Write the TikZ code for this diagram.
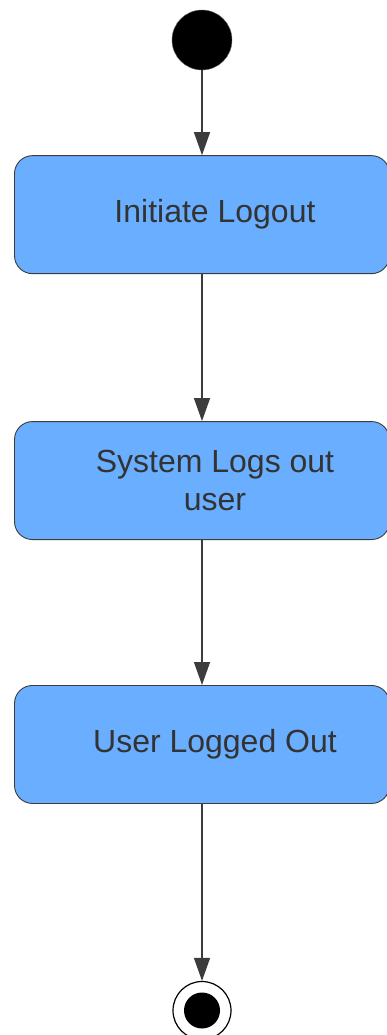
\documentclass[tikz,border=0pt]{standalone}
\usepackage{fontspec}
\setmainfont{Liberation Sans}
\definecolor{stateblue}{RGB}{106,174,255}
\definecolor{darkline}{RGB}{60,60,60}
\definecolor{labelgray}{RGB}{51,51,51}
\usetikzlibrary{positioning,arrows.meta,shapes.geometric}
\tikzset{
	>={Triangle[width=16pt,length=23pt]},
	startstate/.style={
		circle,
		fill=black,
		draw=black!60, thin,
		minimum size=60pt,
		inner sep=0pt},
	endstate/.style={
		circle,
		draw=black, line width=1.2pt,
		fill=white,
		minimum size=58pt,
		inner sep=0pt,
		path picture={\fill[black] (path picture bounding box.center) circle (18pt);}},
	statebox/.style={
		rectangle,
		rounded corners=18pt,
		fill=stateblue,
		draw=darkline, line width=0.9pt,
		minimum width=375pt,
		minimum height=118pt,
		align=center,
		text=labelgray,
		font=\fontsize{32}{37.5}\selectfont},
	flow/.style={draw=darkline, line width=1.4pt, ->},
}

\begin{document}
\begin{tikzpicture}[x=1pt,y=1pt]
\useasboundingbox (0,0) rectangle (386,-1035);

\node[startstate] (start) at (202,-40) {};
\node[statebox, below=85pt of start] (initiate) {\hspace*{26pt}Initiate Logout};
\node[statebox, below=147pt of initiate] (logsout) {\hspace*{26pt}System Logs out\\\hspace*{26pt}user};
\node[statebox, below=145pt of logsout] (loggedout) {\hspace*{26pt}User Logged Out};
\node[endstate, below=177pt of loggedout] (finish) {};

\draw[flow] (start) -- (initiate);
\draw[flow] (initiate) -- (logsout);
\draw[flow] (logsout) -- (loggedout);
\draw[flow] (loggedout) -- (finish);
\end{tikzpicture}
\end{document}
